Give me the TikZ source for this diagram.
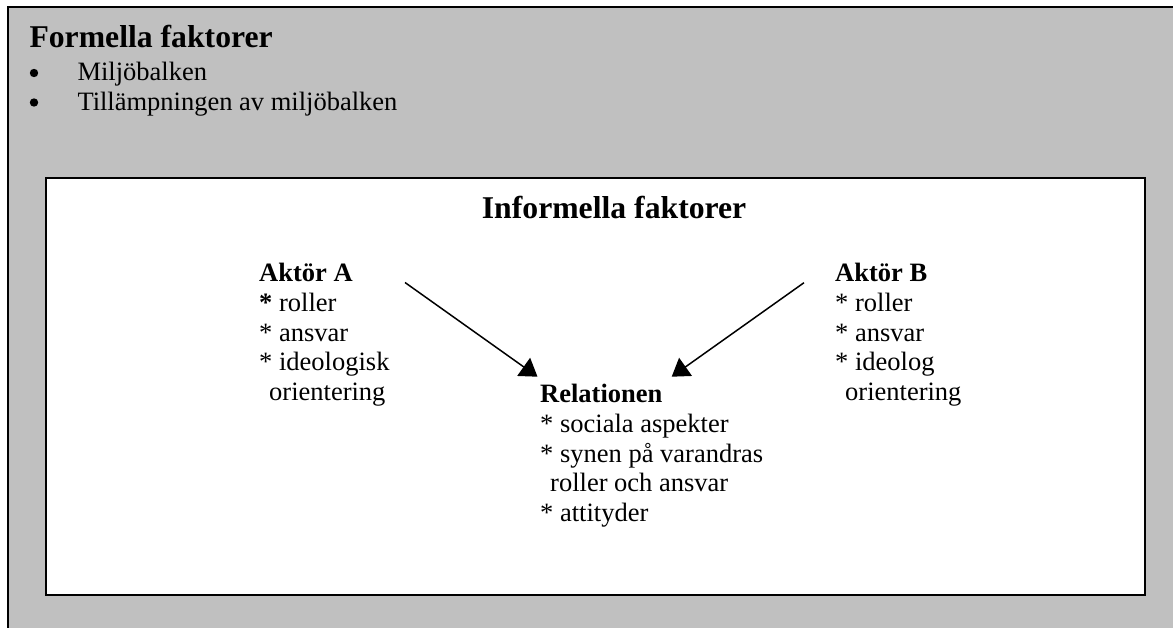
\documentclass[tikz,border=0pt]{standalone}
\usepackage{fontspec}
\setmainfont{Liberation Serif}
\usetikzlibrary{arrows.meta}
\definecolor{panelgray}{RGB}{192,192,192}
\begin{document}
\begin{tikzpicture}[x=1pt,y=-1pt,
  body/.style={font=\fontsize{26.5}{29.7}\selectfont, inner sep=0pt, anchor=base west, align=left},
  head/.style={font=\fontsize{31.7}{36}\selectfont\bfseries, inner sep=0pt, anchor=base west},
  arr/.style={line width=1.5pt, -{Triangle[length=17pt,width=22pt]}}]
\useasboundingbox (0,0) rectangle (1173,628);
% outer grey panel (extends beyond right and bottom edges)
\fill[panelgray, draw=black, line width=1.3pt] (8,7) rectangle (1200,660);
% inner white panel
\draw[fill=white, line width=1.8pt] (45.7,178) rectangle (1145,595);
% formal factors
\node[head] (formella) at (29.3,47.5) {Formella faktorer};
\fill (34,73) circle (4.2pt);
\node[body] (miljo) at (77.3,81) {Miljöbalken};
\fill (34,102.5) circle (4.2pt);
\node[body] (tillamp) at (77.3,110.5) {Tillämpningen av miljöbalken};
% informal factors (base anchor = baseline of last line)
\node[head] (informella) at (481.7,218.8) {Informella faktorer};
\node[body] (aktorA) at (259,400.5) {\textbf{Aktör A}\\\textbf{*} roller\\* ansvar\\* ideologisk\\\hspace*{10pt}orientering};
\node[body] (aktorB) at (835,400.5) {\textbf{Aktör B}\\* roller\\* ansvar\\* ideolog\\\hspace*{10pt}orientering};
\node[body] (relation) at (540,521.5) {\textbf{Relationen}\\* sociala aspekter\\* synen på varandras\\\hspace*{10pt}roller och ansvar\\* attityder};
% arrows
\coordinate (aS) at (405,282.5);
\coordinate (aT) at (537.5,376.7);
\coordinate (bS) at (804,282.7);
\coordinate (bT) at (671.7,376.7);
\draw[arr] (aS) -- (aT);
\draw[arr] (bS) -- (bT);
\end{tikzpicture}
\end{document}
